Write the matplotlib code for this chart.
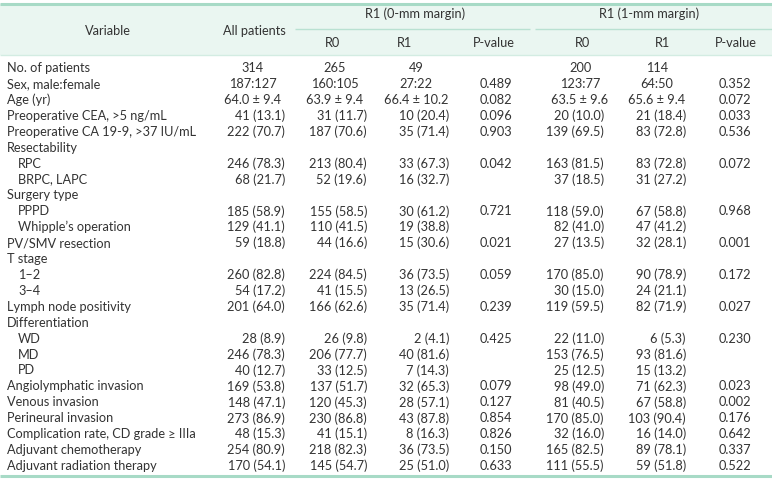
import matplotlib
matplotlib.use("Agg")
import matplotlib.pyplot as plt

# Table content
variables = [
    "No. of patients", "Sex, male:female", "Age (yr)",
    "Preoperative CEA, >5 ng/mL", "Preoperative CA 19-9, >37 IU/mL",
    "Resectability", "RPC", "BRPC, LAPC",
    "Surgery type", "PPPD", "Whipple\u2019s operation",
    "PV/SMV resection",
    "T stage", "1\u20132", "3\u20134",
    "Lymph node positivity",
    "Differentiation", "WD", "MD", "PD",
    "Angiolymphatic invasion", "Venous invasion", "Perineural invasion",
    "Complication rate, CD grade \u2265 IIIa",
    "Adjuvant chemotherapy", "Adjuvant radiation therapy",
]
indented = [
    False, False, False, False, False,
    False, True, True,
    False, True, True,
    False,
    False, True, True,
    False,
    False, True, True, True,
    False, False, False, False, False, False,
]
all_patients = [
    "314", "187:127", "64.0 \u00b1 9.4", "41 (13.1)", "222 (70.7)",
    "", "246 (78.3)", "68 (21.7)",
    "", "185 (58.9)", "129 (41.1)", "59 (18.8)",
    "", "260 (82.8)", "54 (17.2)", "201 (64.0)",
    "", "28 (8.9)", "246 (78.3)", "40 (12.7)",
    "169 (53.8)", "148 (47.1)", "273 (86.9)", "48 (15.3)",
    "254 (80.9)", "170 (54.1)",
]
r0_0mm = [
    "265", "160:105", "63.9 \u00b1 9.4", "31 (11.7)", "187 (70.6)",
    "", "213 (80.4)", "52 (19.6)",
    "", "155 (58.5)", "110 (41.5)", "44 (16.6)",
    "", "224 (84.5)", "41 (15.5)", "166 (62.6)",
    "", "26 (9.8)", "206 (77.7)", "33 (12.5)",
    "137 (51.7)", "120 (45.3)", "230 (86.8)", "41 (15.1)",
    "218 (82.3)", "145 (54.7)",
]
r1_0mm = [
    "49", "27:22", "66.4 \u00b1 10.2", "10 (20.4)", "35 (71.4)",
    "", "33 (67.3)", "16 (32.7)",
    "", "30 (61.2)", "19 (38.8)", "15 (30.6)",
    "", "36 (73.5)", "13 (26.5)", "35 (71.4)",
    "", "2 (4.1)", "40 (81.6)", "7 (14.3)",
    "32 (65.3)", "28 (57.1)", "43 (87.8)", "8 (16.3)",
    "36 (73.5)", "25 (51.0)",
]
p_0mm = [
    "", "0.489", "0.082", "0.096", "0.903",
    "", "0.042", "",
    "", "0.721", "", "0.021",
    "", "0.059", "", "0.239",
    "", "0.425", "", "",
    "0.079", "0.127", "0.854", "0.826",
    "0.150", "0.633",
]
r0_1mm = [
    "200", "123:77", "63.5 \u00b1 9.6", "20 (10.0)", "139 (69.5)",
    "", "163 (81.5)", "37 (18.5)",
    "", "118 (59.0)", "82 (41.0)", "27 (13.5)",
    "", "170 (85.0)", "30 (15.0)", "119 (59.5)",
    "", "22 (11.0)", "153 (76.5)", "25 (12.5)",
    "98 (49.0)", "81 (40.5)", "170 (85.0)", "32 (16.0)",
    "165 (82.5)", "111 (55.5)",
]
r1_1mm = [
    "114", "64:50", "65.6 \u00b1 9.4", "21 (18.4)", "83 (72.8)",
    "", "83 (72.8)", "31 (27.2)",
    "", "67 (58.8)", "47 (41.2)", "32 (28.1)",
    "", "90 (78.9)", "24 (21.1)", "82 (71.9)",
    "", "6 (5.3)", "93 (81.6)", "15 (13.2)",
    "71 (62.3)", "67 (58.8)", "103 (90.4)", "16 (14.0)",
    "89 (78.1)", "59 (51.8)",
]
p_1mm = [
    "", "0.352", "0.072", "0.033", "0.536",
    "", "0.072", "",
    "", "0.968", "", "0.001",
    "", "0.172", "", "0.027",
    "", "0.230", "", "",
    "0.023", "0.002", "0.176", "0.642",
    "0.337", "0.522",
]

# layout in pixels (figure is 772 x 480)
W, H = 772, 480
TEXT = "#333333"
MINT = "#a7dac6"
MINT_BG = "#eaf6f1"
FONT = "Lato"
FS = 9.2

# (values, center for first rows, right edge for n(%) rows, is p-value)
columns = [
    (all_patients, 253, 285, False),
    (r0_0mm, 335, 367, False),
    (r1_0mm, 416, 449, False),
    (p_0mm, 496, None, True),
    (r0_1mm, 580, 604, False),
    (r1_1mm, 657, 686, False),
    (p_1mm, 735, None, True),
]

fig = plt.figure(figsize=(W / 100, H / 100), dpi=100)
ax = fig.add_axes([0, 0, 1, 1])
ax.set_xlim(0, W)
ax.set_ylim(H, 0)
ax.axis("off")

# header band and rules
ax.fill_between([0, W], 4, 55, color=MINT_BG, lw=0, zorder=0)
ax.plot([0, W], [4, 4], color=MINT, lw=2.2, solid_capstyle="butt")
ax.plot([0, W], [55, 55], color="#d3ece2", lw=1.0, solid_capstyle="butt")
ax.plot([295, 530], [29, 29], color="#b9e1d2", lw=1.0, solid_capstyle="butt")
ax.plot([535, W], [29, 29], color="#b9e1d2", lw=1.0, solid_capstyle="butt")

hdr = dict(fontsize=FS, family=FONT, color=TEXT, va="center", ha="center")
ax.text(108, 31, "Variable", **hdr)
ax.text(254, 31, "All patients", **hdr)
ax.text(415, 14, "R1 (0-mm margin)", **hdr)
ax.text(649, 14, "R1 (1-mm margin)", **hdr)
for label, x in [("R0", 333), ("R1", 405), ("P-value", 494),
                 ("R0", 583), ("R1", 662), ("P-value", 736)]:
    ax.text(x, 43, label, **hdr)

# body rows
y0, dy = 68, 15.92
cell = dict(fontsize=FS, family=FONT, color=TEXT, va="center")
for i, name in enumerate(variables):
    y = y0 + i * dy
    ax.text(18 if indented[i] else 7, y, name, ha="left", **cell)
    for values, cx, rx, is_p in columns:
        v = values[i]
        if not v:
            continue
        if is_p or i < 3:
            ax.text(cx, y, v, ha="center", **cell)
        else:
            ax.text(rx, y, v, ha="right", **cell)

y_last = y0 + (len(variables) - 1) * dy
ax.plot([0, W], [y_last + 10, y_last + 10], color=MINT, lw=2.2,
        solid_capstyle="butt")

fig.savefig("out.png", dpi=100, facecolor="white")
